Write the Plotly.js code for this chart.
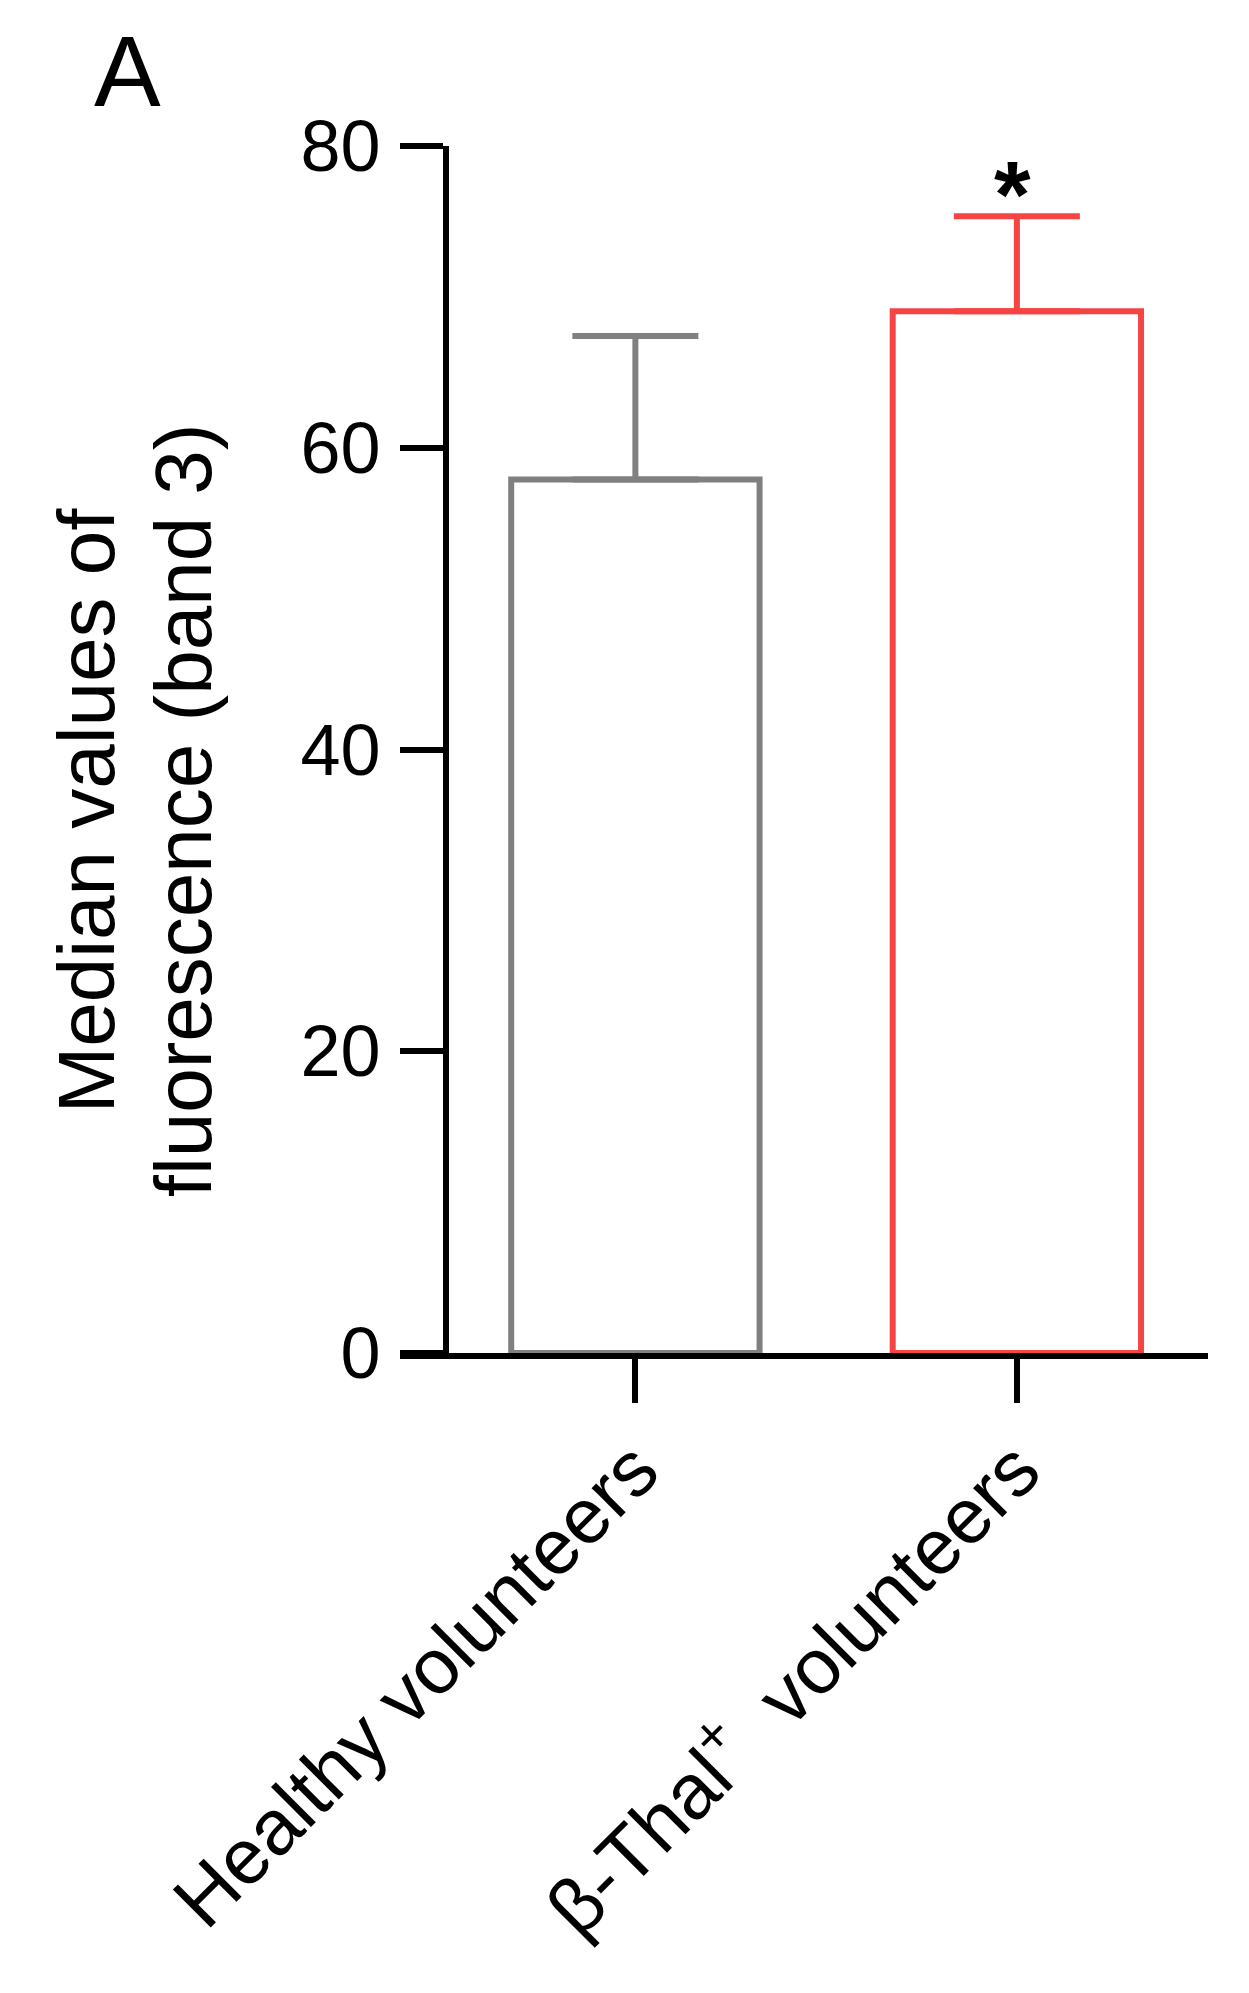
<!DOCTYPE html>
<html>
<head>
<meta charset="utf-8">
<script src="https://cdn.plot.ly/plotly-3.0.1.min.js"></script>
<style>
  html, body { margin: 0; padding: 0; background: #ffffff; }
  #chart { width: 1249px; height: 1993px; }
</style>
</head>
<body>
<div id="chart"></div>
<script>
// group labels and values
var groups = ['Healthy volunteers', '\u03b2-Thal<sup>+</sup>  volunteers'];
var medians = [57.9, 69.05];
var errUp = [9.5, 6.3];
var barColors = ['#808080', '#F44444'];
var stars = ['', '*'];
var yTicks = [0, 20, 40, 60, 80];

var FONT = 'Arial, "Liberation Sans", sans-serif';

// one trace per group so each error bar can take its bar's colour
var data = groups.map(function (g, i) {
  return {
    type: 'bar',
    x: groups,
    y: medians.map(function (v, j) { return j === i ? v : null; }),
    width: 0.651,
    marker: { color: '#ffffff', line: { color: barColors[i], width: 6 } },
    error_y: {
      type: 'data',
      symmetric: false,
      array: errUp.map(function (e, j) { return j === i ? e : 0; }),
      arrayminus: [0, 0],
      color: barColors[i],
      thickness: 6,
      width: 63
    },
    hoverinfo: 'none'
  };
});

var annotations = [{
  text: 'A', xref: 'paper', yref: 'paper',
  x: -0.337, y: 1.062, xanchor: 'center', yanchor: 'middle',
  showarrow: false, font: { family: FONT, size: 100, color: '#000' }
}, {
  text: 'Median values of', textangle: -90, xref: 'paper', yref: 'paper',
  x: -0.388, y: 0.45, xanchor: 'center', yanchor: 'middle',
  showarrow: false, font: { family: FONT, size: 80, color: '#000' }
}, {
  text: 'fluorescence (band 3)', textangle: -90, xref: 'paper', yref: 'paper',
  x: -0.268, y: 0.45, xanchor: 'center', yanchor: 'middle',
  showarrow: false, font: { family: FONT, size: 80, color: '#000' }
}];

stars.forEach(function (s, i) {
  if (!s) return;
  annotations.push({
    text: '<b>' + s + '</b>', x: groups[i], y: medians[i] + errUp[i], yanchor: 'bottom',
    xshift: -4, yshift: -33, showarrow: false,
    font: { family: FONT, size: 94, color: '#000' }
  });
});

var layout = {
  width: 1249,
  height: 1993,
  margin: { l: 400, r: 41, t: 146, b: 640 },
  paper_bgcolor: '#ffffff',
  plot_bgcolor: '#ffffff',
  showlegend: false,
  barmode: 'overlay',
  font: { family: FONT, color: '#000' },
  xaxis: {
    type: 'category',
    range: [-0.617, 1.501],
    showline: true, linecolor: '#000', linewidth: 6,
    ticks: 'outside', ticklen: 44, tickwidth: 6, tickcolor: '#000',
    tickangle: -45,
    ticklabelstandoff: -10,
    tickfont: { family: FONT, size: 78, color: '#000' },
    showgrid: false, zeroline: false
  },
  yaxis: {
    range: [0, 80],
    anchor: 'free', position: 0.057,
    tickvals: yTicks,
    showline: true, linecolor: '#000', linewidth: 6,
    ticks: 'outside', ticklen: 43, tickwidth: 6, tickcolor: '#000',
    ticklabelstandoff: 5,
    tickfont: { family: FONT, size: 72, color: '#000' },
    showgrid: false, zeroline: false
  },
  annotations: annotations
};

Plotly.newPlot('chart', data, layout, { staticPlot: true });
</script>
</body>
</html>
